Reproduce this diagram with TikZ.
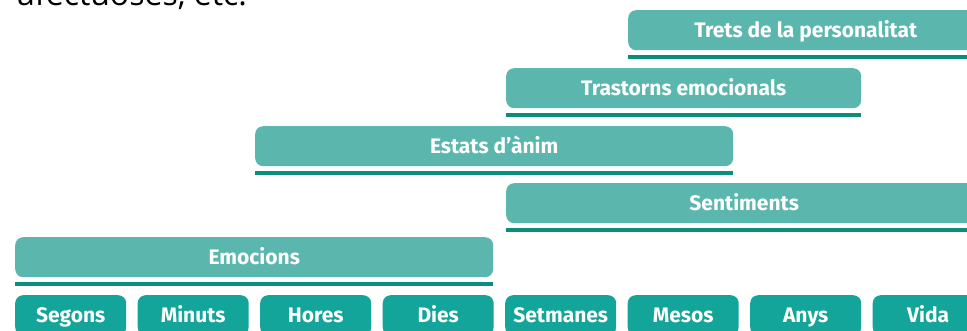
\documentclass[tikz,border=0pt]{standalone}
\usepackage{fontspec}
\setmainfont{Fira Sans}
\newfontfamily\topfont{Open Sans}
\definecolor{barc}{HTML}{5BB7AE}
\definecolor{unitc}{HTML}{14A59A}
\definecolor{linec}{HTML}{0A8E7C}
\begin{document}
\begin{tikzpicture}[x=1pt,y=-1pt,
  lbl/.style={text=white, font=\bfseries\fontsize{21}{25}\selectfont, inner sep=0pt, anchor=north west, minimum height=40pt, text height=15pt, text depth=1pt, rounded corners=8pt},
  barbox/.style={lbl, fill=barc},
  unitbox/.style={lbl, fill=unitc, minimum width=111pt},
  uline/.style={draw=linec, line width=4pt}]
\useasboundingbox (0,0) rectangle (967,330);
\clip (0,0) rectangle (967,330);
\node[anchor=base west, font=\topfont\fontsize{32}{38}\selectfont, inner sep=0pt] (toptext) at (17,5) {afectuoses, etc.};
% bars
\node[barbox, minimum width=355pt] (trets) at (628,10) {Trets de la personalitat};
\node[barbox, minimum width=355pt] (trast) at (506,68) {Trastorns emocionals};
\node[barbox, minimum width=478pt] (estats) at (255,126) {Estats d’ànim};
\node[barbox, minimum width=476pt] (sent) at (506,183) {Sentiments};
\node[barbox, minimum width=478pt] (emo) at (15,237) {Emocions};
\foreach \n in {trets,trast,estats,sent,emo}{
  \draw[uline] ([yshift=-6.5pt]\n.south west) -- ([yshift=-6.5pt]\n.south east);
}
% time units
\node[unitbox] (u1) at (15,295) {Segons};
\node[unitbox] (u2) at (137.5,295) {Minuts};
\node[unitbox] (u3) at (260,295) {Hores};
\node[unitbox] (u4) at (382.5,295) {Dies};
\node[unitbox] (u5) at (505,295) {Setmanes};
\node[unitbox] (u6) at (627.5,295) {Mesos};
\node[unitbox] (u7) at (750,295) {Anys};
\node[unitbox] (u8) at (872.5,295) {Vida};
\end{tikzpicture}
\end{document}
